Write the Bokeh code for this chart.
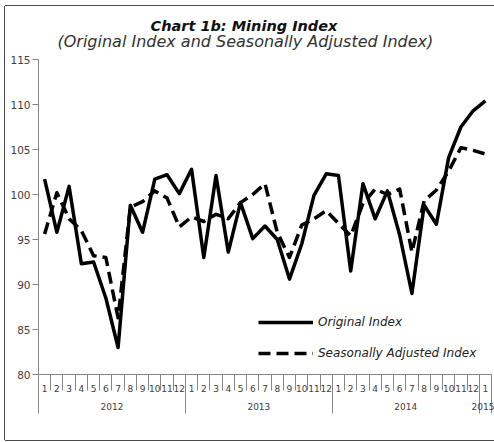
from bokeh.plotting import figure
from bokeh.models import (Range1d, LinearAxis, FixedTicker, Title, Legend,
                          LegendItem, ColumnDataSource)
from bokeh.embed import file_html
from bokeh.resources import INLINE

# ---- data ----
years = ["2012", "2013", "2014", "2015"]
months_per_year = [12, 12, 12, 1]
month_labels = [str(m) for m in range(1, 13)] * 3 + ["1"]
original = [101.7, 95.8, 100.9, 92.3, 92.5, 88.5, 83.0, 98.8, 95.8, 101.7, 102.2, 100.1,
            102.8, 93.0, 102.1, 93.6, 99.1, 95.1, 96.5, 95.0, 90.6, 94.5, 99.9, 102.3,
            102.1, 91.5, 101.2, 97.3, 100.4, 95.5, 89.0, 98.8, 96.7, 104.1, 107.5, 109.3,
            110.4]
seas_adj = [95.6, 100.2, 97.3, 96.0, 93.2, 93.0, 86.3, 98.6, 99.2, 100.4, 99.6, 96.4,
            97.5, 97.0, 97.8, 97.3, 99.1, 100.0, 101.2, 95.8, 93.0, 96.6, 97.3, 98.2,
            96.8, 95.4, 99.0, 100.6, 100.0, 100.6, 93.6, 99.3, 100.5, 102.6, 105.2, 104.9,
            104.5]
y_ticks = [80, 85, 90, 95, 100, 105, 110, 115]

n = len(original)
xs = [i + 0.5 for i in range(n)]
src = ColumnDataSource(dict(x=xs, orig=original, sa=seas_adj))

FONT = "DejaVu Sans"
GRAY = "#868686"
TXT = "#404040"

W, H = 489, 434
left, top, bottom, right = 33, 53, 66, 3

p = figure(width=W, height=H, output_backend="svg", toolbar_location=None,
           x_range=Range1d(0, n), y_range=Range1d(80, 115),
           x_axis_type=None, min_border_left=left, min_border_right=right,
           min_border_top=top, min_border_bottom=bottom, title=None)
p.margin = (6, 0, 0, 5)
p.styles = {"box-shadow": "-1px 0 0 0 #4a4a4a, 0 -1px 0 0 #4a4a4a, 0 1px 0 0 #4a4a4a"}
p.outline_line_color = None
p.xgrid.visible = False
p.ygrid.visible = False
p.background_fill_color = "white"
p.border_fill_color = "white"

# y axis
ya = p.yaxis[0]
ya.ticker = FixedTicker(ticks=y_ticks)
ya.major_tick_out = 6
ya.major_tick_in = 0
ya.minor_tick_line_color = None
ya.axis_line_color = GRAY
ya.major_tick_line_color = GRAY
ya.major_label_standoff = 2
ya.major_label_text_font = FONT
ya.major_label_text_font_size = "10.5px"
ya.major_label_text_color = TXT

# x axis: months (labels between the month separators)
boundaries = list(range(n + 1))
month_axis = LinearAxis(ticker=FixedTicker(ticks=xs, minor_ticks=boundaries),
                        major_label_overrides={x: lab for x, lab in zip(xs, month_labels)})
month_axis.major_tick_in = 0
month_axis.major_tick_out = 0
month_axis.major_tick_line_color = None
month_axis.minor_tick_in = 0
month_axis.minor_tick_out = 16
month_axis.minor_tick_line_color = GRAY
month_axis.axis_line_color = GRAY
month_axis.major_label_standoff = -6
month_axis.major_label_text_font = FONT
month_axis.major_label_text_font_size = "9px"
month_axis.major_label_text_color = TXT
p.add_layout(month_axis, "below")

# x axis: years with long group separators
year_starts = [sum(months_per_year[:k]) for k in range(len(years))]
year_centers = [s + c / 2 for s, c in zip(year_starts, months_per_year)]
year_axis = LinearAxis(ticker=FixedTicker(ticks=year_centers, minor_ticks=year_starts + [n]),
                       major_label_overrides={x: y for x, y in zip(year_centers, years)})
year_axis.axis_line_color = None
year_axis.major_tick_line_color = None
year_axis.major_tick_in = 0
year_axis.major_tick_out = 0
year_axis.minor_tick_in = 20
year_axis.minor_tick_out = 19
year_axis.minor_tick_line_color = GRAY
year_axis.major_label_standoff = -11
year_axis.major_label_text_font = FONT
year_axis.major_label_text_font_size = "9px"
year_axis.major_label_text_color = TXT
p.add_layout(year_axis, "below")

# series
r1 = p.line("x", "orig", source=src, line_color="black", line_width=3.5,
            line_join="round")
r2 = p.line("x", "sa", source=src, line_color="black", line_width=3.5,
            line_dash="12 6", line_join="round")

legend = Legend(items=[LegendItem(label="Original Index", renderers=[r1]),
                       LegendItem(label="Seasonally Adjusted Index", renderers=[r2])],
                location=(220, 11), glyph_width=55, glyph_height=20, label_height=20,
                spacing=11, padding=0, margin=0, border_line_color=None,
                background_fill_alpha=0, label_standoff=5,
                label_text_font=FONT, label_text_font_style="italic",
                label_text_font_size="12px", label_text_color="#222222")
p.add_layout(legend)

# titles
sub = Title(text="(Original Index and Seasonally Adjusted Index)", align="left",
            offset=19, text_font=FONT, text_font_style="italic",
            text_font_size="16px", text_color="#333333", standoff=18)
p.add_layout(sub, "above")
main = Title(text="Chart 1b: Mining Index", align="left", offset=112, text_font=FONT,
             text_font_style="bold italic", text_font_size="14.5px",
             text_color="#111111", standoff=-26)
p.add_layout(main, "above")

with open("out.html", "w", encoding="utf-8") as f:
    f.write(file_html(p, INLINE))
